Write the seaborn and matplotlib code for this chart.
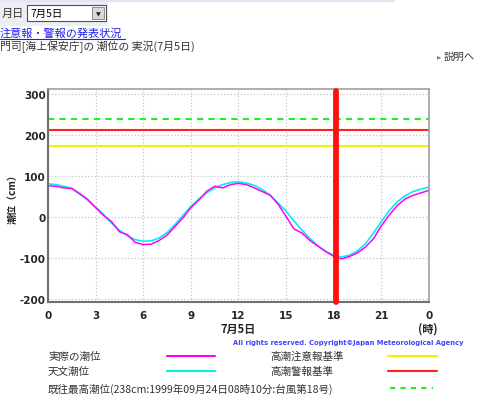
import numpy as np
import matplotlib
matplotlib.use('Agg')
import matplotlib.pyplot as plt
import seaborn as sns
from matplotlib.lines import Line2D
from matplotlib.patches import Rectangle

# tide data, every 30 minutes from 0h to 24h (cm)
hours = np.arange(0, 24.5, 0.5)
astro_tide = [80, 78, 74, 68, 55, 40, 23, 5, -16, -33, -47, -56, -60, -59, -52, -39,
              -19, 3, 25, 43, 58, 70, 78, 83, 85, 82, 76, 66, 52, 33, 13, -11,
              -33, -53, -71, -85, -94, -98, -94, -83, -66, -40, -12, 15, 36, 51, 61, 67, 72]
actual_tide = [75, 74, 70, 69, 56, 42, 22, 3, -12, -37, -44, -63, -68, -67, -58, -45,
               -24, -3, 22, 40, 62, 74, 70, 78, 81, 78, 70, 61, 52, 30, 0, -30,
               -40, -58, -72, -85, -97, -103, -97, -88, -74, -54, -22, 4, 27, 43, 52, 58, 64]

# reference levels (cm)
caution_level = 172
warning_level = 212
record_level = 238
now_hour = 18.17

xticks = [0, 3, 6, 9, 12, 15, 18, 21, 24]
xtick_labels = ['0', '3', '6', '9', '12', '15', '18', '21', '0']
yticks = [-200, -100, 0, 100, 200, 300]

sns.set_style('white')
plt.rcParams['font.family'] = ['Noto Sans CJK JP', 'DejaVu Sans']

W, H = 480, 402
fig = plt.figure(figsize=(4.8, 4.02), dpi=100)


def fx(x):
    return x / W


def fy(y):
    return 1 - y / H


# header area
fig.patches.append(Rectangle((0, fy(3)), fx(395), 3 / H, transform=fig.transFigure,
                             color='#e4e4f4', lw=0))
fig.patches.append(Rectangle((0, fy(27)), fx(108), 24 / H, transform=fig.transFigure,
                             color='#eceef2', lw=0))
fig.patches.append(Rectangle((fx(27), fy(22)), fx(79), 16 / H, transform=fig.transFigure,
                             facecolor='white', edgecolor='#505050', lw=0.8))
fig.patches.append(Rectangle((fx(92), fy(20)), fx(12), 12 / H, transform=fig.transFigure,
                             facecolor='#d8d8d8', edgecolor='#808080', lw=0.6))
fig.text(fx(98), fy(14.5), '▼', fontsize=4.5, ha='center', va='center', family='DejaVu Sans')
fig.text(fx(2), fy(14), '月日', fontsize=8, va='center', color='#333333')
fig.text(fx(30), fy(14), '7月5日', fontsize=7.5, va='center', color='black')
fig.text(fx(0), fy(33), '注意報・警報の発表状況', fontsize=8, va='center', color='#2020ee')
fig.add_artist(Line2D([0, fx(125)], [fy(40), fy(40)], transform=fig.transFigure,
                      color='#2020ee', lw=0.8))
fig.text(fx(0), fy(47), '門司[海上保安庁]の 潮位の 実況(7月5日)', fontsize=7.8, va='center',
         color='#333333')
fig.text(fx(437), fy(57), '▸', fontsize=6, va='center', color='#7080a0', family='DejaVu Sans')
fig.text(fx(444), fy(57), '説明へ', fontsize=7.5, va='center', color='#333333')

# chart
ax = fig.add_axes([fx(48), fy(303), fx(429 - 48), (303 - 90) / H])
ax.axhline(record_level, color='#22ee22', lw=1.5, dashes=(3, 2.5))
ax.axhline(warning_level, color='#ff2020', lw=1.5)
ax.axhline(caution_level, color='#f2f200', lw=1.5)
sns.lineplot(x=hours, y=astro_tide, ax=ax, color='#00f0f0', lw=1.2)
sns.lineplot(x=hours, y=actual_tide, ax=ax, color='#ff00ff', lw=1.1)
ax.plot([now_hour, now_hour], [-207, 306], color='#ff1010', lw=4.2,
        solid_capstyle='round', clip_on=False, zorder=5)

ax.set_xlim(0, 24)
ax.set_ylim(-208, 311)
ax.set_xticks(xticks)
ax.set_xticklabels(xtick_labels)
ax.set_xticks(range(0, 25), minor=True)
ax.set_yticks(yticks)
ax.set_yticklabels([str(v) for v in yticks])
ax.tick_params(axis='x', which='both', direction='in', length=3, width=0.8,
               color='#707070', pad=6)
ax.tick_params(axis='y', length=0, pad=1.5)
for lab in ax.get_xticklabels() + ax.get_yticklabels():
    lab.set_fontweight('bold')
    lab.set_fontsize(7.5)
    lab.set_family('DejaVu Sans')
ax.grid(True, which='major', color='#c4c4c4', ls=':', lw=0.9)
ax.set_xlabel('')
ax.set_ylabel('')
for side in ['left', 'bottom']:
    ax.spines[side].set_color('#707070')
    ax.spines[side].set_linewidth(1.5)
for side in ['top', 'right']:
    ax.spines[side].set_color('#a0a0a0')
    ax.spines[side].set_linewidth(1.2)

fig.text(fx(13), fy(197), '潮位（cm）', rotation=90, fontsize=7.2, fontweight='bold',
         ha='center', va='center', color='#222222')
fig.text(fx(238), fy(329), '7月5日', fontsize=8, fontweight='bold', ha='center', va='center')
fig.text(fx(428), fy(329), '(時)', fontsize=8, fontweight='bold', ha='center', va='center')
fig.text(fx(233), fy(343), 'All rights reserved. Copyright©Japan Meteorological Agency',
         fontsize=4.9, fontweight='bold', va='center', color='#4444ff', family='DejaVu Sans')

# legend block
legend_rows = [
    (48, 357, '実際の潮位', 167, 215, '#ff00ff', '-'),
    (48, 372, '天文潮位', 167, 215, '#00f0f0', '-'),
    (270, 357, '高潮注意報基準', 388, 437, '#f2f200', '-'),
    (270, 372, '高潮警報基準', 388, 437, '#ff2020', '-'),
    (48, 389, '既往最高潮位(238cm:1999年09月24日08時10分:台風第18号)', 390, 433, '#22ee22', '--'),
]
for tx, ty, label, x0, x1, col, ls in legend_rows:
    fig.text(fx(tx), fy(ty), label, fontsize=7.6, va='center', color='#333333')
    line = Line2D([fx(x0), fx(x1)], [fy(ty), fy(ty)], transform=fig.transFigure,
                  color=col, lw=1.5)
    if ls == '--':
        line.set_dashes((2.5, 2.5))
    fig.add_artist(line)

plt.savefig('out.png', dpi=100)
